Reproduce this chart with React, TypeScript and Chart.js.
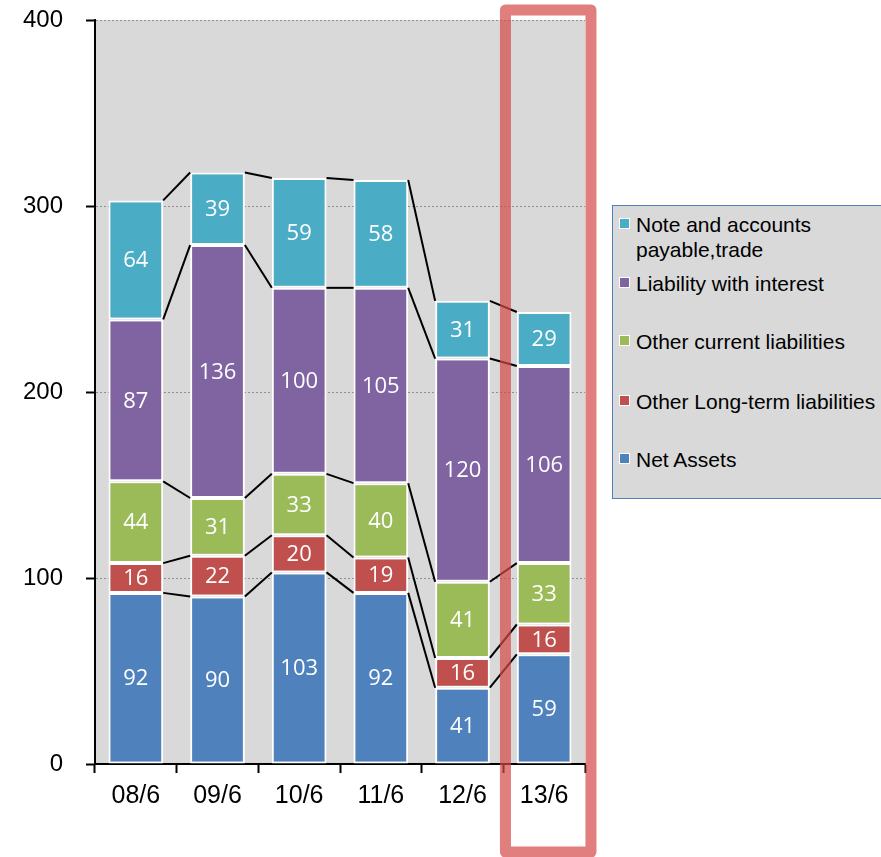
import React, { useEffect, useRef } from "react";
import { Chart, registerables } from "chart.js";

Chart.register(...registerables);

// Fiscal periods (year/month)
const categories = ["08/6", "09/6", "10/6", "11/6", "12/6", "13/6"];

// Balance-sheet components, stacked bottom to top
const netAssets = [92, 90, 103, 92, 41, 59];
const otherLongTerm = [16, 22, 20, 19, 16, 16];
const otherCurrent = [44, 31, 33, 40, 41, 33];
const interestLiability = [87, 136, 100, 105, 120, 106];
const payableTrade = [64, 39, 59, 58, 31, 29];

const yTicks = [0, 100, 200, 300, 400];

const seriesNames = [
  "Net Assets",
  "Other Long-term liabilities",
  "Other current liabilities",
  "Liability with interest",
  "Note and accounts payable,trade",
];
const seriesColors = ["#4f81bd", "#c0504d", "#9bbb59", "#8064a2", "#4bacc6"];
const seriesValues = [netAssets, otherLongTerm, otherCurrent, interestLiability, payableTrade];

// Index of the highlighted period
const highlightIndex = 5;

const AXIS_FONT = "'Liberation Sans', Arial, sans-serif";
const LABEL_FONT = "'Open Sans', 'Noto Sans', sans-serif";

const chartDecor = {
  id: "chartDecor",
  beforeDraw(chart: any) {
    const { ctx, chartArea: a } = chart;
    ctx.save();
    ctx.fillStyle = "#d9d9d9";
    ctx.fillRect(a.left, a.top, a.right - a.left, a.bottom - a.top);
    ctx.restore();
  },
  beforeDatasetsDraw(chart: any) {
    const { ctx, chartArea: a } = chart;
    const y = chart.scales.y;
    ctx.save();
    ctx.strokeStyle = "#8f8f8f";
    ctx.lineWidth = 1;
    ctx.setLineDash([2, 2]);
    yTicks
      .filter((v) => v > 0)
      .forEach((v) => {
        const py = Math.round(y.getPixelForValue(v)) + 0.5;
        ctx.beginPath();
        ctx.moveTo(a.left + 1, py);
        ctx.lineTo(a.right, py);
        ctx.stroke();
      });
    ctx.restore();
  },
  afterDatasetsDraw(chart: any) {
    const { ctx } = chart;
    const metas = chart.data.datasets.map((_: any, i: number) => chart.getDatasetMeta(i));

    // connector lines between neighbouring bars at each segment top
    ctx.save();
    ctx.strokeStyle = "#000";
    ctx.lineWidth = 2;
    metas.forEach((meta: any) => {
      for (let i = 0; i < meta.data.length - 1; i++) {
        const p = meta.data[i];
        const q = meta.data[i + 1];
        ctx.beginPath();
        ctx.moveTo(p.x + p.width / 2, p.y);
        ctx.lineTo(q.x - q.width / 2, q.y);
        ctx.stroke();
      }
    });
    ctx.restore();

    // value labels centred in each segment
    ctx.save();
    ctx.fillStyle = "#ffffff";
    ctx.font = `22px ${LABEL_FONT}`;
    ctx.textAlign = "center";
    ctx.textBaseline = "middle";
    metas.forEach((meta: any, d: number) => {
      meta.data.forEach((bar: any, i: number) => {
        const v = seriesValues[d][i];
        ctx.fillText(String(v), bar.x, (bar.y + bar.base) / 2 + 1);
      });
    });
    ctx.restore();
  },
  afterDraw(chart: any) {
    const { ctx, chartArea: a } = chart;
    const x = chart.scales.x;
    const cat = (a.right - a.left) / categories.length;
    const xc = x.getPixelForValue(highlightIndex);
    const left = xc - cat * 0.474;
    const right = xc + cat * 0.573;
    const top = a.top - 10;
    const bottom = chart.height - 5;
    ctx.save();
    ctx.strokeStyle = "rgba(212, 72, 72, 0.7)";
    ctx.lineWidth = 11;
    ctx.lineJoin = "round";
    ctx.strokeRect(left, top, right - left, bottom - top);
    ctx.restore();
  },
};

const legendItems = [
  { name: seriesNames[4], color: seriesColors[4], top: 212 },
  { name: seriesNames[3], color: seriesColors[3], top: 271 },
  { name: seriesNames[2], color: seriesColors[2], top: 329 },
  { name: seriesNames[1], color: seriesColors[1], top: 389 },
  { name: seriesNames[0], color: seriesColors[0], top: 447 },
];

export default function App() {
  const canvasRef = useRef<HTMLCanvasElement | null>(null);

  useEffect(() => {
    if (!canvasRef.current) return;
    const chart = new Chart(canvasRef.current, {
      type: "bar",
      data: {
        labels: categories,
        datasets: seriesValues.map((vals, i) => ({
          label: seriesNames[i],
          data: vals,
          backgroundColor: seriesColors[i],
          borderColor: "#ffffff",
          borderWidth: 2,
          borderSkipped: false,
          categoryPercentage: 1,
          barPercentage: 0.67,
        })),
      },
      options: {
        responsive: false,
        animation: false,
        layout: { padding: { left: 0, right: 296, top: 20, bottom: 0 } },
        plugins: {
          legend: { display: false },
          tooltip: { enabled: false },
        },
        scales: {
          x: {
            stacked: true,
            grid: {
              drawOnChartArea: false,
              offset: true,
              tickLength: 9,
              tickColor: "#000",
              tickWidth: 2,
            },
            border: { color: "#000", width: 2 },
            ticks: {
              color: "#000",
              padding: 8,
              font: { family: AXIS_FONT, size: 25 },
            },
            afterFit: (s: any) => {
              s.height = 93;
            },
          },
          y: {
            stacked: true,
            min: 0,
            max: 400,
            afterBuildTicks: (s: any) => {
              s.ticks = yTicks.map((v) => ({ value: v }));
            },
            grid: {
              drawOnChartArea: false,
              tickLength: 9,
              tickColor: "#000",
              tickWidth: 2,
            },
            border: { color: "#000", width: 2 },
            ticks: {
              color: "#000",
              padding: 23,
              font: { family: AXIS_FONT, size: 24 },
            },
            afterFit: (s: any) => {
              s.width = 95;
              s.paddingTop = 0;
              s.paddingBottom = 0;
            },
          },
        },
      },
      plugins: [chartDecor],
    });
    return () => chart.destroy();
  }, []);

  return (
    <div
      style={{
        position: "absolute",
        left: 0,
        top: 0,
        width: 881,
        height: 857,
        overflow: "hidden",
        background: "#fff",
      }}
    >
      <canvas ref={canvasRef} width={881} height={857} style={{ display: "block" }} />
      <div
        style={{
          position: "absolute",
          left: 612,
          top: 205,
          width: 300,
          height: 294,
          background: "#d9d9d9",
          border: "1px solid #4f81bd",
          boxSizing: "border-box",
        }}
      />
      {legendItems.map((it) => (
        <div
          key={it.name}
          style={{
            position: "absolute",
            left: 619,
            top: it.top,
            width: 262,
            fontFamily: AXIS_FONT,
            fontSize: 21,
            lineHeight: "25px",
            color: "#000",
          }}
        >
          <span
            style={{
              position: "absolute",
              left: 0,
              top: 6,
              width: 9,
              height: 9,
              background: it.color,
              border: "1px solid #fff",
            }}
          />
          <div
            style={{
              marginLeft: 17,
              width: it.name.length > 28 ? 200 : 260,
              whiteSpace: it.name.length > 28 ? "normal" : "nowrap",
            }}
          >
            {it.name}
          </div>
        </div>
      ))}
    </div>
  );
}
